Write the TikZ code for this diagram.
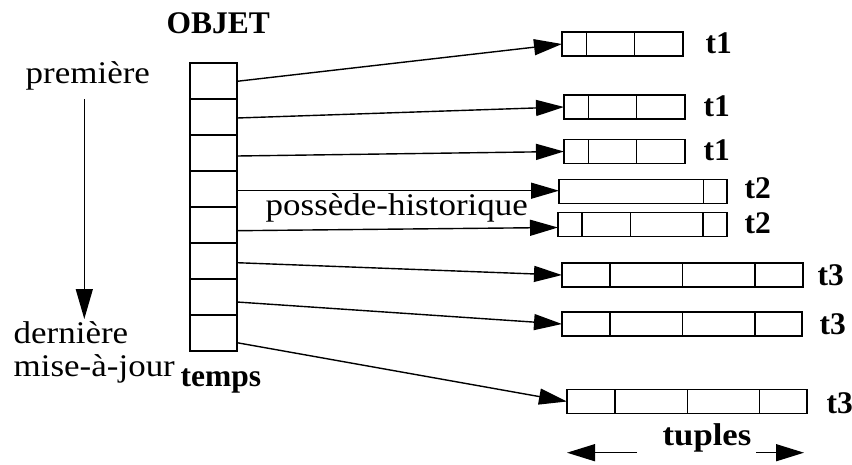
\documentclass[tikz,border=0pt]{standalone}
\usepackage{fontspec}
\setmainfont{Liberation Serif}
\newfontfamily\regf[FakeStretch=1.11]{Liberation Serif}
\newfontfamily\widebf[FakeStretch=1.1]{Liberation Serif}
\usetikzlibrary{arrows.meta}
\newcommand\tdiv[2]{\draw ([xshift=#2pt]#1.north west) -- ([xshift=#2pt]#1.south west);}
\begin{document}
\begin{tikzpicture}[x=1pt,y=-1pt, line width=1.4pt,
 cell/.style={draw, minimum width=47pt, minimum height=36pt, inner sep=0pt, outer sep=0pt},
 tup/.style={draw, minimum height=24pt, inner sep=0pt, outer sep=0pt},
 arr/.style={-{Triangle[length=28pt,width=16pt]}},
 lab/.style={font=\fontsize{31.5}{37}\selectfont\regf, inner sep=0pt, anchor=base west},
 blab/.style={font=\fontsize{31.5}{37}\selectfont\bfseries, inner sep=0pt, anchor=base west}]
\useasboundingbox (0,0) rectangle (852,464);

% column of cells
\foreach \i in {1,...,8} \node[cell] (c\i) at (213.5,{63+36*(\i-0.5)}) {};

% tuples
\node[tup, minimum width=121pt] (T1) at (622.5,44) {};
\node[tup, minimum width=121pt] (T2) at (624.5,107) {};
\node[tup, minimum width=121pt] (T3) at (624.5,151.5) {};
\node[tup, minimum width=168pt] (T4) at (643,191.5) {};
\node[tup, minimum width=169pt] (T5) at (642.5,224.5) {};
\node[tup, minimum width=241pt] (T6) at (682.5,275) {};
\node[tup, minimum width=240pt] (T7) at (682,324) {};
\node[tup, minimum width=240pt] (T8) at (687,401.5) {};

\foreach \o in {24.5,72.5} {\tdiv{T1}{\o}}
\foreach \o in {24.5,72.5} {\tdiv{T2}{\o}}
\foreach \o in {24.5,72.5} {\tdiv{T3}{\o}}
\tdiv{T4}{144.5}
\foreach \o in {24,72.5,145} {\tdiv{T5}{\o}}
\foreach \o in {48,120.5,193} {\tdiv{T6}{\o}}
\foreach \o in {48,120.5,193} {\tdiv{T7}{\o}}
\foreach \o in {48,120.5,192.5} {\tdiv{T8}{\o}}

% connectors
\draw[arr] ([yshift=-0.3pt]c1.east) -- (T1.west);
\draw[arr] ([yshift=-1pt]c2.east) -- (T2.west);
\draw[arr] ([yshift=-3pt]c3.east) -- (T3.west);
\draw[arr] ([yshift=-1.7pt]c4.east) -- ([yshift=0.8pt]T4.west);
\draw[arr] ([yshift=-5.7pt]c5.east) -- ([yshift=-3pt]T5.west);
\draw[arr] ([yshift=-1.7pt]c6.east) -- (T6.west);
\draw[arr] ([yshift=-5pt]c7.east) -- (T7.west);
\draw[arr] ([yshift=-9.7pt]c8.east) -- (T8.west);

% labels
\node[blab] (objet) at (166,33) {OBJET};
\node[blab] (temps) at (180,386) {temps};
\node[lab] (prem) at (25,83.3) {première};
\node[lab] (dern) at (13,343.3) {dernière};
\node[lab] (maj) at (13,376.7) {mise-à-jour};
\node[lab] (poss) at (265,215) {possède-historique};
\node[blab, font=\fontsize{31.5}{37}\selectfont\widebf\bfseries] (tuples) at (662,445) {tuples};

\node[blab] (l1) at (705,53.3) {t1};
\node[blab] (l2) at (703,116.7) {t1};
\node[blab] (l3) at (703,160) {t1};
\node[blab] (l4) at (744,198) {t2};
\node[blab] (l5) at (744,233) {t2};
\node[blab] (l6) at (817,285.5) {t3};
\node[blab] (l7) at (819,334) {t3};
\node[blab] (l8) at (826,413) {t3};

% time arrow
\coordinate (va) at (84.3,99);
\coordinate (vb) at (84.3,319);
\draw[-{Triangle[length=30pt,width=17pt]}] (va) -- (vb);

% tuples width arrows
\coordinate (ta) at (637,452.7);
\coordinate (tb) at (567,452.7);
\coordinate (tc) at (756,452.7);
\coordinate (td) at (804,452.7);
\draw[-{Triangle[length=28pt,width=17pt]}] (ta) -- (tb);
\draw[-{Triangle[length=28pt,width=17pt]}] (tc) -- (td);
\end{tikzpicture}
\end{document}
